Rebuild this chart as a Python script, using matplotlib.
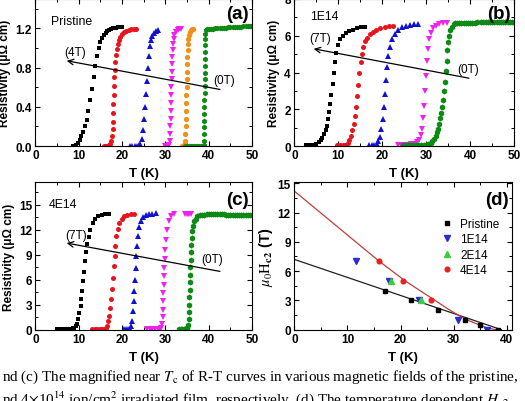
import matplotlib
matplotlib.use("Agg")
import matplotlib.pyplot as plt
from matplotlib.ticker import MultipleLocator

plt.rcParams['font.family'] = ['Liberation Sans', 'DejaVu Sans']
plt.rcParams['font.weight'] = 'normal'
plt.rcParams['mathtext.fontset'] = 'stix'

# ---------------- panel (a): pristine, 4T ... 0T ----------------
a_black_T = [8.6, 9.0, 9.4, 9.8, 10.2, 10.6, 11.0, 11.4, 11.8, 12.2, 12.6, 13.0, 13.4, 13.8, 14.2,
             14.6, 15.0, 15.4, 15.8, 16.2, 16.6, 17.0, 17.5, 18.0, 18.5, 19.0, 19.5, 20.0]
a_black_R = [0.00, 0.00, 0.01, 0.03, 0.06, 0.10, 0.14, 0.20, 0.27, 0.36, 0.47, 0.58, 0.70, 0.82, 0.92,
             1.00, 1.06, 1.10, 1.13, 1.15, 1.17, 1.18, 1.19, 1.20, 1.20, 1.21, 1.21, 1.21]
a_red_T = [15.8, 16.2, 16.6, 17.0, 17.3, 17.5, 17.7, 17.8, 17.9, 17.95, 18.0, 18.05, 18.1, 18.2, 18.3,
           18.45, 18.6, 18.8, 19.0, 19.3, 19.6, 20.0, 20.4, 20.9, 21.5, 22.1, 22.7, 23.1]
a_red_R = [0.0, 0.0, 0.0, 0.01, 0.02, 0.05, 0.10, 0.17, 0.25, 0.34, 0.43, 0.52, 0.61, 0.70, 0.78,
           0.86, 0.93, 0.99, 1.04, 1.08, 1.11, 1.14, 1.16, 1.17, 1.18, 1.19, 1.19, 1.19]
a_blue_T = [21.9, 22.4, 22.9, 23.4, 23.8, 24.2, 24.6, 24.9, 25.1, 25.3, 25.5, 25.7, 25.9, 26.1,
            26.4, 26.7, 27.0, 27.4, 27.8, 28.2]
a_blue_R = [0.0, 0.0, 0.0, 0.0, 0.01, 0.02, 0.07, 0.16, 0.28, 0.40, 0.53, 0.66, 0.80, 0.92,
            1.02, 1.08, 1.12, 1.15, 1.17, 1.18]
a_mag_T = [29.8, 30.2, 30.6, 30.9, 31.0, 31.1, 31.15, 31.2, 31.25, 31.3, 31.35, 31.4, 31.45, 31.5,
           31.55, 31.6, 31.7, 31.8, 31.95, 32.1, 32.4, 32.8, 33.2, 33.5]
a_mag_R = [0.0, 0.0, 0.0, 0.01, 0.05, 0.12, 0.2, 0.28, 0.36, 0.44, 0.52, 0.6, 0.68, 0.76,
           0.84, 0.91, 0.98, 1.04, 1.09, 1.13, 1.16, 1.18, 1.19, 1.19]
a_orange_T = [33.9, 34.2, 34.4, 34.55, 34.6, 34.65, 34.7, 34.75, 34.8, 34.85, 34.9, 34.95, 35.0,
              35.05, 35.1, 35.15, 35.2, 35.3, 35.4, 35.6, 35.8, 36.1, 36.4]
a_orange_R = [0.0, 0.0, 0.01, 0.05, 0.12, 0.2, 0.28, 0.36, 0.44, 0.52, 0.6, 0.68, 0.76,
              0.84, 0.91, 0.98, 1.04, 1.09, 1.13, 1.16, 1.18, 1.19, 1.19]
a_green_T = [34.6, 35.0, 35.4, 35.8, 36.2, 36.6, 37.0, 37.4, 37.8, 38.2, 38.6, 38.9,
             38.95, 38.97, 38.99, 39.0, 39.01, 39.02, 39.03, 39.04, 39.05, 39.06, 39.07, 39.08,
             39.09, 39.1, 39.12, 39.15, 39.2, 39.3,
             39.6, 40.0, 40.5, 41.0, 41.5, 42.0, 42.5, 43.0, 43.5, 44.0, 44.5, 45.0, 45.5, 46.0,
             46.5, 47.0, 47.5, 48.0, 48.5, 49.0, 49.5, 50.0]
a_green_R = [0.0, 0.0, 0.0, 0.0, 0.0, 0.0, 0.0, 0.0, 0.0, 0.0, 0.0, 0.01,
             0.05, 0.12, 0.19, 0.26, 0.33, 0.40, 0.47, 0.54, 0.61, 0.68, 0.75, 0.82,
             0.89, 0.96, 1.03, 1.09, 1.14, 1.18,
             1.19, 1.19, 1.19, 1.19, 1.2, 1.2, 1.2, 1.2, 1.2, 1.2, 1.21, 1.21, 1.21, 1.21,
             1.21, 1.21, 1.21, 1.22, 1.22, 1.22, 1.22, 1.22]

# ---------------- panel (b): 1E14, 7T ... 0T ----------------
b_black_T = [2.6, 3.2, 3.8, 4.4, 5.0, 5.5, 6.0, 6.4, 6.8, 7.1, 7.4, 7.7, 7.95, 8.2, 8.45, 8.7, 8.95,
             9.2, 9.5, 9.9, 10.4, 11.0, 11.7, 12.5, 13.3, 14.2, 15.1, 16.0]
b_black_R = [0.05, 0.05, 0.06, 0.08, 0.12, 0.2, 0.3, 0.45, 0.65, 0.85, 1.1, 1.45, 1.85, 2.3, 2.8, 3.35,
             3.95, 4.55, 5.05, 5.5, 5.8, 6.0, 6.15, 6.25, 6.32, 6.4, 6.45, 6.48]
b_red_T = [9.8, 10.4, 11.0, 11.6, 12.1, 12.5, 12.9, 13.2, 13.5, 13.8, 14.05, 14.3, 14.55, 14.8, 15.05,
           15.3, 15.6, 16.0, 16.5, 17.1, 17.8, 18.6, 19.5, 20.5, 21.5, 22.5]
b_red_R = [0.05, 0.05, 0.06, 0.08, 0.15, 0.3, 0.55, 0.85, 1.2, 1.65, 2.15, 2.7, 3.3, 3.95, 4.55,
           5.0, 5.4, 5.7, 5.9, 6.08, 6.2, 6.3, 6.4, 6.47, 6.52, 6.55]
b_blue_T = [17.0, 17.6, 18.2, 18.7, 19.1, 19.5, 19.8, 20.1, 20.35, 20.6, 20.85, 21.1, 21.4, 21.8,
            22.3, 22.9, 23.6, 24.4, 25.3, 26.2, 27.1, 28.0]
b_blue_R = [0.05, 0.05, 0.06, 0.1, 0.25, 0.5, 0.9, 1.45, 2.1, 2.85, 3.6, 4.3, 4.9, 5.4,
            5.8, 6.1, 6.3, 6.45, 6.55, 6.6, 6.64, 6.66]
b_mag_T = [23.5, 24.3, 25.1, 25.9, 26.6, 27.3, 27.9, 28.4, 28.8, 29.1, 29.35, 29.55, 29.75, 29.95,
           30.15, 30.4, 30.7, 31.1, 31.6, 32.2, 32.9, 33.7, 34.6]
b_mag_R = [0.05, 0.05, 0.06, 0.07, 0.09, 0.13, 0.2, 0.35, 0.6, 0.95, 1.5, 2.2, 3.0, 3.8,
           4.6, 5.3, 5.8, 6.15, 6.4, 6.55, 6.65, 6.7, 6.72]
b_green_T = [24.6, 25.2, 25.8, 26.4, 27.0, 27.6, 28.2, 28.8, 29.4, 30.0, 30.5, 31.0, 31.4,
             31.8, 32.1, 32.4, 32.7, 33.0, 33.2, 33.4, 33.6, 33.8, 34.0, 34.2, 34.4, 34.6, 34.8,
             35.0, 35.2, 35.5, 35.8, 36.2, 36.6,
             37.0, 37.5, 38.0, 38.5, 39.0, 39.5, 40.0, 40.5, 41.0, 41.5, 42.5, 43.0, 43.5, 44.0,
             44.5, 45.0, 45.5, 46.0, 46.5, 47.0, 47.5, 48.0, 48.5, 49.0, 49.5, 50.0]
b_green_R = [0.05, 0.05, 0.05, 0.05, 0.06, 0.06, 0.06, 0.07, 0.07, 0.08, 0.1, 0.15, 0.25,
             0.4, 0.55, 0.75, 0.95, 1.2, 1.5, 1.8, 2.1, 2.5, 3.0, 3.5, 4.1, 4.65, 5.2,
             5.65, 6.0, 6.3, 6.5, 6.65, 6.7,
             6.7, 6.7, 6.71, 6.71, 6.71, 6.72, 6.72, 6.72, 6.72, 6.73, 6.73, 6.73, 6.73, 6.74,
             6.74, 6.74, 6.74, 6.74, 6.75, 6.75, 6.75, 6.75, 6.75, 6.75, 6.75, 6.75]

# ---------------- panel (c): 4E14, 7T ... 0T ----------------
c_black_T = [5.0, 5.6, 6.2, 6.8, 7.4, 8.0, 8.6, 9.0, 9.3, 9.6, 9.9, 10.15, 10.4, 10.6, 10.8, 11.0,
             11.2, 11.45, 11.7, 12.0, 12.3, 12.7, 13.2, 13.8, 14.5, 15.3, 16.1, 16.9]
c_black_R = [0.1, 0.1, 0.1, 0.1, 0.1, 0.12, 0.15, 0.25, 0.4, 0.7, 1.3, 2.0, 2.8, 3.7, 4.7, 5.8,
             6.9, 8.2, 9.3, 10.3, 11.1, 12.0, 12.8, 13.3, 13.6, 13.75, 13.85, 13.9]
c_red_T = [13.1, 13.7, 14.3, 14.9, 15.4, 15.9, 16.3, 16.6, 16.85, 17.05, 17.25, 17.45, 17.65, 17.85,
           18.05, 18.25, 18.45, 18.7, 19.0, 19.4, 19.9, 20.5, 21.2, 22.0, 22.8]
c_red_R = [0.05, 0.05, 0.05, 0.06, 0.08, 0.12, 0.25, 0.5, 1.0, 1.7, 2.6, 3.7, 4.9, 6.2,
           7.6, 8.9, 10.1, 11.2, 12.1, 12.8, 13.3, 13.6, 13.8, 13.9, 13.95]
c_blue_T = [20.4, 20.9, 21.4, 21.8, 22.1, 22.3, 22.5, 22.65, 22.8, 22.95, 23.1, 23.25, 23.45, 23.7,
            24.0, 24.4, 24.9, 25.5, 26.2, 27.0, 27.8]
c_blue_R = [0.05, 0.05, 0.06, 0.1, 0.4, 1.1, 2.2, 3.4, 4.7, 6.0, 7.4, 8.8, 10.1, 11.3,
            12.3, 13.0, 13.5, 13.75, 13.9, 13.95, 14.0]
c_mag_T = [25.8, 26.4, 27.0, 27.6, 28.2, 28.7, 29.1, 29.3, 29.4, 29.45, 29.5, 29.55, 29.6, 29.65,
           29.7, 29.8, 29.9, 30.1, 30.4, 30.8, 31.3, 31.9, 34.6, 34.9, 35.2, 35.5, 35.8]
c_mag_R = [0.05, 0.05, 0.05, 0.05, 0.06, 0.08, 0.2, 0.7, 1.5, 2.4, 3.4, 4.4, 5.4, 6.4,
           7.4, 8.5, 9.6, 10.8, 12.0, 13.0, 13.6, 13.9, 13.95, 13.95, 13.95, 13.95, 13.95]
c_green_T = [33.1, 33.5, 33.9, 34.3, 34.6, 34.9, 35.1,
             35.25, 35.35, 35.42, 35.48, 35.54, 35.6, 35.66, 35.72, 35.78, 35.85, 35.92, 36.0,
             36.1, 36.25, 36.45, 36.7, 37.0, 37.4, 37.9, 38.4,
             39.0, 39.5, 40.0, 40.5, 41.0, 41.5, 42.0, 42.5, 43.0, 43.5, 44.0, 44.5, 45.0, 45.5,
             46.0, 46.5, 47.0, 47.5, 48.0, 48.5, 49.0, 49.5, 50.0]
c_green_R = [0.1, 0.1, 0.1, 0.1, 0.12, 0.15, 0.25,
             0.6, 1.3, 2.1, 3.0, 3.9, 4.8, 5.7, 6.6, 7.5, 8.4, 9.3, 10.2,
             11.0, 11.8, 12.5, 13.0, 13.35, 13.6, 13.75, 13.8,
             13.82, 13.84, 13.85, 13.85, 13.85, 13.85, 13.85, 13.85, 13.84, 13.84, 13.83, 13.83,
             13.82, 13.82, 13.82, 13.81, 13.81, 13.8, 13.8, 13.8, 13.8, 13.8, 13.8]

# ---------------- panel (d): upper critical field ----------------
d_pristine_T = [17.0, 22.0, 27.0, 32.1, 35.0, 38.3]
d_pristine_H = [4.0, 3.0, 2.0, 1.0, 0.5, 0.0]
d_1e14_T = [11.6, 17.8, 23.4, 30.9, 36.3]
d_1e14_H = [7.0, 5.0, 3.0, 1.0, 0.0]
d_2e14_T = [18.3, 23.8]
d_2e14_H = [5.0, 3.0]
d_4e14_T = [16.0, 20.4, 25.8]
d_4e14_H = [7.0, 5.0, 3.0]
fit_black_T = [0.0, 39.0]
fit_black_H = [7.2, 0.0]
fit_red_T = [0.0, 8.0, 16.0, 21.0, 26.5, 29.0, 31.0, 33.0, 35.0, 36.5, 38.0]
fit_red_H = [14.2, 10.6, 7.0, 4.95, 3.0, 2.1, 1.45, 0.9, 0.45, 0.15, 0.0]

caption1 = r"nd (c) The magnified near $T_{\rm c}$ of R-T curves in various magnetic fields of the pristine,"
caption2 = (r"nd 4$\times$10$^{14}$ ion/cm$^{2}$ irradiated film, respectively. "
            r"(d) The temperature dependent $H_{\rm c2}$")

BLACK, RED, BLUE, MAG, ORANGE, GREEN = '#000000', '#e8141c', '#1010d0', '#f020f0', '#f0901a', '#0c8a14'

fig = plt.figure(figsize=(5.25, 4.02), dpi=100)
ax_a = fig.add_axes([0.0676, 0.6343, 0.4124, 0.3657])
ax_b = fig.add_axes([0.5606, 0.6343, 0.4190, 0.3657])
ax_c = fig.add_axes([0.0676, 0.1774, 0.4124, 0.3667])
ax_d = fig.add_axes([0.5606, 0.1774, 0.4147, 0.3667])


def style(ax, xmaj, xmin, ymaj, ymin, yfmt=None):
    ax.xaxis.set_major_locator(MultipleLocator(xmaj))
    ax.xaxis.set_minor_locator(MultipleLocator(xmin))
    ax.yaxis.set_major_locator(MultipleLocator(ymaj))
    ax.yaxis.set_minor_locator(MultipleLocator(ymin))
    if yfmt:
        ax.yaxis.set_major_formatter(yfmt)
    ax.tick_params(which='both', direction='in', top=True, right=True, labelsize=8.5, pad=2.5)
    ax.tick_params(which='major', length=3.5, width=0.8)
    ax.tick_params(which='minor', length=2, width=0.7)
    for lbl in ax.get_xticklabels() + ax.get_yticklabels():
        lbl.set_fontweight('bold')
    for s in ax.spines.values():
        s.set_linewidth(0.8)
    ax.set_xlabel('T (K)', fontsize=9.5, fontweight='bold', labelpad=4)


def rt_panel(ax, series, ylim, ymaj, fmt):
    for T, R, c, m, ms in series:
        ax.plot(T, R, ls='none', marker=m, color=c, ms=ms, mec=c, mew=0)
    ax.set_xlim(0, 50)
    ax.set_ylim(*ylim)
    style(ax, 10, 5, ymaj, ymaj / 2, fmt)
    ax.set_ylabel('Resistivity (\u03bc\u03a9 cm)', fontsize=8.5, fontweight='bold', labelpad=3)


rt_panel(ax_a, [(a_black_T, a_black_R, BLACK, 's', 3.4),
                (a_red_T, a_red_R, RED, 'o', 3.6),
                (a_blue_T, a_blue_R, BLUE, '^', 4.0),
                (a_mag_T, a_mag_R, MAG, 'v', 4.0),
                (a_orange_T, a_orange_R, ORANGE, 'o', 3.8),
                (a_green_T, a_green_R, GREEN, 'h', 4.0)],
         (0, 1.5), 0.4, '{x:.1f}')
rt_panel(ax_b, [(b_black_T, b_black_R, BLACK, 's', 3.4),
                (b_red_T, b_red_R, RED, 'o', 3.6),
                (b_blue_T, b_blue_R, BLUE, '^', 4.0),
                (b_mag_T, b_mag_R, MAG, 'v', 4.0),
                (b_green_T, b_green_R, GREEN, 'h', 4.4)],
         (0, 8), 2, '{x:.0f}')
rt_panel(ax_c, [(c_black_T, c_black_R, BLACK, 's', 3.4),
                (c_red_T, c_red_R, RED, 'o', 3.6),
                (c_blue_T, c_blue_R, BLUE, '^', 4.0),
                (c_mag_T, c_mag_R, MAG, 'v', 4.0),
                (c_green_T, c_green_R, GREEN, 'h', 4.4)],
         (0, 17.7), 3, '{x:.0f}')

arrow = dict(arrowstyle='->', color='k', lw=0.9, shrinkA=0, shrinkB=0)
ax_a.annotate('', xy=(7.2, 0.87), xytext=(42.6, 0.577), arrowprops=arrow)
ax_a.text(9.2, 0.96, '(4T)', fontsize=8.5, ha='center', va='center')
ax_a.text(43.6, 0.67, '(0T)', fontsize=8.5, ha='center', va='center')
ax_a.text(3.5, 1.275, 'Pristine', fontsize=8.8, ha='left', va='center')
ax_a.text(0.985, 0.9, '(a)', transform=ax_a.transAxes, fontsize=13.5, fontweight='bold',
          ha='right', va='center')

ax_b.annotate('', xy=(4.4, 5.29), xytext=(39.7, 3.69), arrowprops=arrow)
ax_b.text(5.9, 5.87, '(7T)', fontsize=8.5, ha='center', va='center')
ax_b.text(39.5, 4.2, '(0T)', fontsize=8.5, ha='center', va='center')
ax_b.text(3.6, 7.1, '1E14', fontsize=8.8, ha='left', va='center')
ax_b.text(0.985, 0.9, '(b)', transform=ax_b.transAxes, fontsize=13.5, fontweight='bold',
          ha='right', va='center')

ax_c.annotate('', xy=(7.2, 10.4), xytext=(42.6, 7.0), arrowprops=arrow)
ax_c.text(9.4, 11.4, '(7T)', fontsize=8.5, ha='center', va='center')
ax_c.text(40.8, 8.5, '(0T)', fontsize=8.5, ha='center', va='center')
ax_c.text(3.1, 15.1, '4E14', fontsize=8.8, ha='left', va='center')
ax_c.text(0.985, 0.88, '(c)', transform=ax_c.transAxes, fontsize=13.5, fontweight='bold',
          ha='right', va='center')

# (d)
ax_d.plot(fit_black_T, fit_black_H, color='#202020', lw=0.9)
ax_d.plot(fit_red_T, fit_red_H, color='#b8403c', lw=0.9)
ax_d.plot(d_pristine_T, d_pristine_H, ls='none', marker='s', color=BLACK, ms=3.2, label='Pristine')
ax_d.plot(d_1e14_T, d_1e14_H, ls='none', marker='v', color='#2a2ad0', ms=4.2, label='1E14')
ax_d.plot(d_2e14_T, d_2e14_H, ls='none', marker='^', color='#3ccc3c', ms=4.2, label='2E14')
ax_d.plot(d_4e14_T, d_4e14_H, ls='none', marker='o', color='#e82020', ms=3.4, label='4E14')
ax_d.set_xlim(0, 41)
ax_d.set_ylim(0, 15.1)
style(ax_d, 10, 5, 3, 1.5)
ax_d.set_ylabel(r'$\mu_0\mathrm{H}_{\mathbf{c2}}$ (T)', fontsize=10.5, fontweight='bold', labelpad=2)
ax_d.legend(loc='center left', bbox_to_anchor=(0.675, 0.56), frameon=False, fontsize=8.5,
            handlelength=1.0, handletextpad=0.6, labelspacing=0.3, borderpad=0,
            borderaxespad=0, numpoints=1)
ax_d.text(0.985, 0.88, '(d)', transform=ax_d.transAxes, fontsize=13.5, fontweight='bold',
          ha='right', va='center')

fig.text(0.003, 0.062, caption1, fontsize=10.9, family='Liberation Serif', ha='left', va='center')
fig.text(0.003, 0.006, caption2, fontsize=10.9, family='Liberation Serif', ha='left', va='center')

fig.savefig('out.png', dpi=100)
